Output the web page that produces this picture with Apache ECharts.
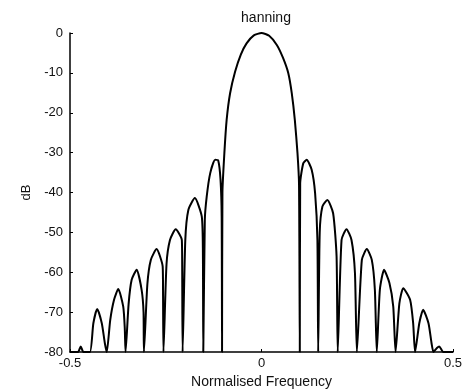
<!DOCTYPE html>
<html>
<head>
    <meta charset="UTF-8">
    <title>hanning</title>
    <style>
        html, body { margin: 0; padding: 0; background: #fff; }
        #main { width: 471px; height: 389px; }
    </style>
</head>
<body>
<div id="main"></div>
<script src="https://cdn.jsdelivr.net/npm/echarts@6/dist/echarts.min.js"></script>
<script>
    // normalised frequency of each traced point
    var freq = [
        -0.5, -0.479, -0.472, -0.465, -0.448,
        -0.439, -0.429, -0.417, -0.409, -0.404,
        -0.395, -0.385, -0.374, -0.361, -0.357, -0.355,
        -0.347, -0.339, -0.326, -0.313, -0.308, -0.307,
        -0.298, -0.289, -0.274, -0.258, -0.257, -0.256,
        -0.248, -0.239, -0.224, -0.208, -0.207, -0.206,
        -0.199, -0.191, -0.174, -0.156, -0.153, -0.152,
        -0.148, -0.143, -0.134, -0.121, -0.113, -0.107, -0.104, -0.103,
        -0.102, -0.097, -0.091, -0.082, -0.069, -0.054, -0.039, -0.02, 0,
        0.02, 0.04, 0.056, 0.07, 0.079, 0.087, 0.094, 0.098, 0.1,
        0.101, 0.109, 0.118, 0.131, 0.14, 0.146, 0.148,
        0.152, 0.159, 0.172, 0.187, 0.196, 0.199,
        0.209, 0.222, 0.235, 0.244, 0.249,
        0.262, 0.275, 0.288, 0.296, 0.301,
        0.309, 0.32, 0.334, 0.344, 0.35,
        0.36, 0.37, 0.388, 0.396, 0.401,
        0.412, 0.422, 0.436, 0.444, 0.449,
        0.458, 0.464, 0.475, 0.5
    ];
    // level in dB
    var level = [
        -80, -80, -78.6, -80, -80,
        -72.8, -69.2, -72.8, -77.8, -80,
        -72, -66.9, -64.2, -68.6, -74, -80,
        -68, -61.9, -59.4, -64.4, -70, -80,
        -63, -56.9, -54.2, -58.6, -66, -80,
        -58, -51.9, -49.2, -51.9, -60, -80,
        -52, -44.4, -41.4, -46, -55, -80,
        -46.9, -41, -35.2, -31.8, -32, -36.8, -46, -80,
        -40, -30.2, -21.8, -15.1, -9.7, -5.4, -2.6, -0.6, 0,
        -0.7, -3, -6.2, -10.1, -15.1, -21.8, -30.2, -38, -80,
        -37.7, -32.7, -31.8, -34.3, -40.2, -51.9, -80,
        -50, -43.5, -41.9, -45.2, -56, -80,
        -51.9, -49.2, -51.9, -60.2, -80,
        -56.9, -54.2, -56.9, -64.4, -80,
        -64.4, -59.4, -62.7, -68.6, -80,
        -67.8, -64, -66.9, -72.8, -80,
        -72.8, -69.4, -72.8, -77.8, -80,
        -79, -78.6, -80, -80
    ];
    var yTicks = [0, -10, -20, -30, -40, -50, -60, -70, -80];
    var xTicks = [-0.5, 0, 0.5];

    var points = [];
    for (var i = 0; i < freq.length; i++) {
        points.push([freq[i], level[i]]);
    }

    var myChart = echarts.init(document.getElementById('main'));
    var option = {
        animation: false,
        title: {
            text: 'hanning',
            left: 261,
            top: 6,
            textAlign: 'center',
            textStyle: {
                fontFamily: 'Liberation Sans, Arial, sans-serif',
                fontSize: 14,
                fontWeight: 'normal',
                color: '#111'
            }
        },
        grid: {
            left: 70,
            right: 18,
            top: 33,
            bottom: 37,
            containLabel: false,
            outerBoundsMode: 'none'
        },
        xAxis: {
            type: 'value',
            min: xTicks[0],
            max: xTicks[xTicks.length - 1],
            interval: 0.5,
            name: 'Normalised Frequency',
            nameLocation: 'middle',
            nameGap: 23,
            nameTextStyle: {
                fontFamily: 'Liberation Sans, Arial, sans-serif',
                fontSize: 14,
                color: '#111'
            },
            axisLine: { onZero: false, lineStyle: { color: '#000', width: 1.5 } },
            axisTick: { inside: true, length: 3, lineStyle: { color: '#000' } },
            axisLabel: {
                margin: 5,
                fontFamily: 'Liberation Sans, Arial, sans-serif',
                fontSize: 13,
                color: '#111',
                formatter: function (v) { return v === 0 ? '0' : String(v); }
            },
            splitLine: { show: false }
        },
        yAxis: {
            type: 'value',
            min: yTicks[yTicks.length - 1],
            max: yTicks[0],
            interval: 10,
            name: 'dB',
            nameLocation: 'middle',
            nameGap: 26,
            nameRotate: 90,
            nameTextStyle: {
                fontFamily: 'Liberation Sans, Arial, sans-serif',
                fontSize: 13,
                color: '#111'
            },
            axisLine: { show: true, onZero: false, lineStyle: { color: '#000', width: 1.5 } },
            axisTick: { show: true, inside: true, length: 3, lineStyle: { color: '#000' } },
            axisLabel: {
                margin: 7,
                fontFamily: 'Liberation Sans, Arial, sans-serif',
                fontSize: 13,
                color: '#111'
            },
            splitLine: { show: false }
        },
        series: [
            {
                type: 'line',
                data: points,
                showSymbol: false,
                smooth: 0.2,
                clip: true,
                lineStyle: { color: '#000', width: 2 }
            }
        ]
    };
    myChart.setOption(option);
</script>
</body>
</html>
